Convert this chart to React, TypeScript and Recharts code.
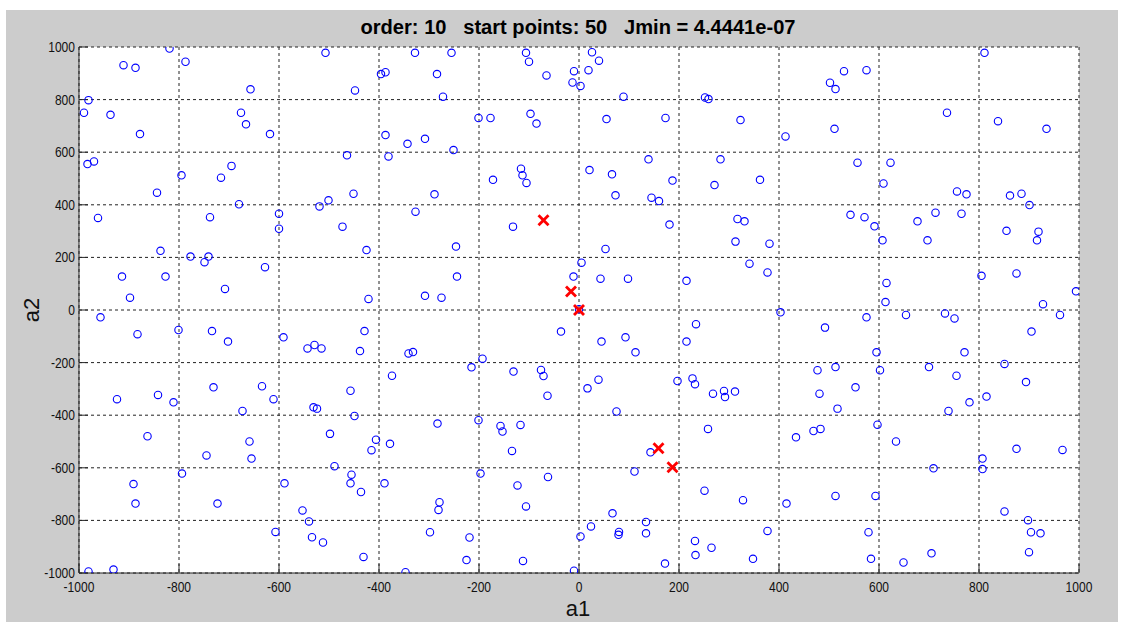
import { ScatterChart, Scatter, XAxis, YAxis, CartesianGrid } from 'recharts';

const startsTopLeft: [number, number][] = [
  [-819, 994], [-911, 931], [-887, 921], [-787, 944], [-507, 978], [-981, 798], [-990, 750], [-937, 742],
  [-878, 669], [-657, 839], [-676, 750], [-666, 706], [-618, 669], [-983, 555], [-970, 565], [-795, 512],
  [-716, 503], [-695, 548], [-844, 446], [-680, 402], [-962, 350], [-738, 353], [-600, 366], [-600, 309],
  [-519, 394], [-501, 417], [-837, 225], [-777, 203], [-749, 182], [-741, 203], [-628, 163], [-914, 127],
  [-827, 127], [-898, 47], [-708, 80],
];
const startsTopMid: [number, number][] = [
  [-328, 978], [-255, 978], [-396, 897], [-387, 904], [-448, 835], [-284, 897], [-272, 811], [-106, 978],
  [-100, 944], [-65, 892], [-10, 908], [-13, 865], [-201, 730], [-177, 730], [-97, 746], [-85, 709],
  [-387, 665], [-343, 632], [-308, 651], [-251, 608], [-464, 588], [-381, 584], [-116, 537], [-113, 512],
  [-105, 483], [-172, 495], [-451, 442], [-289, 440], [-327, 374], [-473, 317], [-132, 317], [-425, 228],
  [-246, 241], [-244, 127], [-421, 42], [-308, 54], [-275, 47], [-11, 127],
];
const startsTopCenter: [number, number][] = [
  [3, 852], [26, 980], [40, 948], [19, 912], [89, 811], [252, 808], [259, 802], [55, 726], [173, 730],
  [323, 722], [413, 660], [139, 573], [283, 573], [21, 532], [66, 516], [187, 492], [271, 475], [362, 495],
  [73, 436], [145, 427], [160, 414], [317, 346], [331, 337], [181, 325], [313, 260], [381, 252], [53, 232],
  [5, 180], [341, 176], [377, 143], [43, 119], [98, 119], [215, 111], [0, 3],
];
const startsTopRight: [number, number][] = [
  [502, 864], [513, 840], [530, 908], [575, 912], [811, 978], [736, 750], [838, 718], [935, 689], [511, 689],
  [557, 560], [623, 560], [609, 481], [756, 451], [775, 440], [862, 435], [885, 442], [901, 399], [543, 362],
  [571, 353], [591, 318], [607, 265], [677, 337], [713, 370], [765, 366], [697, 265], [855, 301], [919, 298],
  [916, 265], [615, 103], [613, 30], [805, 130], [875, 139], [994, 71], [928, 22],
];
const startsBottomLeft: [number, number][] = [
  [-957, -28], [-883, -92], [-801, -76], [-734, -80], [-702, -120], [-591, -104], [-543, -146], [-529, -133],
  [-515, -146], [-924, -339], [-842, -323], [-811, -351], [-731, -294], [-634, -290], [-611, -339],
  [-673, -384], [-531, -370], [-524, -375], [-498, -471], [-863, -480], [-745, -553], [-659, -500],
  [-655, -565], [-794, -622], [-891, -662], [-887, -736], [-723, -736], [-589, -659], [-553, -762],
  [-540, -804], [-534, -864], [-512, -884], [-607, -844], [-981, -994], [-931, -987],
];
const startsBottomMid: [number, number][] = [
  [-429, -80], [-438, -156], [-341, -165], [-332, -160], [-215, -218], [-193, -185], [-36, -82], [-131, -234],
  [-76, -228], [-71, -251], [-63, -326], [-374, -250], [-457, -307], [-449, -403], [-406, -493], [-415, -533],
  [-378, -509], [-283, -432], [-201, -419], [-157, -441], [-153, -462], [-117, -437], [-134, -536],
  [-489, -594], [-455, -626], [-457, -659], [-436, -692], [-389, -659], [-197, -622], [-123, -667],
  [-62, -635], [-106, -747], [-279, -731], [-281, -760], [-431, -939], [-298, -845], [-219, -865],
  [-225, -951], [-112, -954], [-347, -997], [-10, -991],
];
const startsBottomCenter: [number, number][] = [
  [403, -9], [492, -67], [45, -120], [93, -104], [113, -161], [234, -54], [215, -120], [17, -298], [39, -265],
  [75, -386], [197, -270], [227, -260], [232, -282], [268, -318], [290, -308], [292, -331], [312, -310],
  [477, -229], [481, -318], [258, -452], [434, -484], [469, -460], [483, -452], [143, -541], [111, -614],
  [251, -687], [328, -723], [415, -736], [67, -773], [24, -823], [3, -861], [80, -844], [79, -855],
  [134, -806], [134, -849], [232, -878], [233, -932], [265, -904], [348, -946], [377, -840], [172, -964],
];
const startsBottomRight: [number, number][] = [
  [575, -28], [654, -19], [732, -13], [751, -32], [962, -19], [905, -82], [595, -161], [771, -161],
  [513, -217], [602, -229], [700, -217], [755, -250], [851, -205], [894, -274], [553, -294], [517, -375],
  [739, -384], [781, -351], [815, -329], [597, -436], [634, -500], [807, -565], [807, -605], [875, -528],
  [967, -532], [709, -602], [513, -707], [593, -707], [851, -766], [898, -799], [904, -845], [923, -849],
  [579, -845], [584, -946], [649, -960], [705, -925], [900, -921],
];

// local minima found (red crosses)
const minima: [number, number][] = [[-71, 341], [-16, 70], [0, 0], [159, -526], [187, -598]];

const ticks = [-1000, -800, -600, -400, -200, 0, 200, 400, 600, 800, 1000];

const toPts = (arr: [number, number][]) => arr.map(([a1, a2]) => ({ a1, a2 }));
const starts = toPts([
  ...startsTopLeft, ...startsTopMid, ...startsTopCenter, ...startsTopRight,
  ...startsBottomLeft, ...startsBottomMid, ...startsBottomCenter, ...startsBottomRight,
]);
const mins = toPts(minima);

const font = "'Liberation Sans', Arial, sans-serif";

// matlab-ish narrow tick labels
const XTick = (p: any) => (
  <text transform={`translate(${p.x},${p.y}) scale(0.86,1)`} textAnchor="middle" fontFamily={font} fontSize={14} fill="#111">
    {p.payload.value}
  </text>
);
const YTick = (p: any) => (
  <text transform={`translate(${p.x},${p.y}) scale(0.86,1)`} dy="0.36em" textAnchor="end" fontFamily={font} fontSize={14} fill="#111">
    {p.payload.value}
  </text>
);

const Ring = (p: any) => <circle cx={p.cx} cy={p.cy} r={3.7} fill="none" stroke="#0000ff" strokeWidth={1.1} />;
const Cross = (p: any) => {
  const d = 5;
  return (
    <g stroke="#ff0000" strokeWidth={2.8}>
      <line x1={p.cx - d} y1={p.cy - d} x2={p.cx + d} y2={p.cy + d} />
      <line x1={p.cx - d} y1={p.cy + d} x2={p.cx + d} y2={p.cy - d} />
    </g>
  );
};

export default function App() {
  return (
    <div style={{ position: 'absolute', left: 0, top: 0, width: 1136, height: 626, background: '#fff', overflow: 'hidden' }}>
      <div style={{ position: 'absolute', left: 6, top: 10, width: 1112, height: 612, background: '#cccccc' }} />
      <div style={{ position: 'absolute', left: 0, top: 0 }}>
        <ScatterChart width={1136} height={626} margin={{ top: 47, right: 57, bottom: 23, left: 39 }}>
          <CartesianGrid stroke="#222" strokeDasharray="3 3" fill="#fff" />
          <XAxis
            type="number"
            dataKey="a1"
            domain={[-1000, 1000]}
            ticks={ticks}
            height={30}
            tickSize={-9}
            tickMargin={28}
            stroke="#262626"
            tick={<XTick />}
            allowDataOverflow
          />
          <XAxis
            xAxisId="top"
            orientation="top"
            type="number"
            domain={[-1000, 1000]}
            ticks={ticks}
            height={0}
            tickSize={-9}
            tick={false}
            stroke="#262626"
          />
          <YAxis
            type="number"
            dataKey="a2"
            domain={[-1000, 1000]}
            ticks={ticks}
            width={40}
            tickSize={-9}
            tickMargin={13}
            stroke="#262626"
            tick={<YTick />}
            allowDataOverflow
          />
          <YAxis
            yAxisId="right"
            orientation="right"
            type="number"
            domain={[-1000, 1000]}
            ticks={ticks}
            width={0}
            tickSize={-9}
            tick={false}
            stroke="#262626"
          />
          <Scatter data={starts} shape={Ring} isAnimationActive={false} />
          <Scatter data={mins} shape={Cross} isAnimationActive={false} />
        </ScatterChart>
      </div>
      <svg width={1136} height={626} style={{ position: 'absolute', left: 0, top: 0, pointerEvents: 'none' }}>
        <text
          x={578}
          y={34}
          textAnchor="middle"
          textLength={435}
          lengthAdjust="spacingAndGlyphs"
          xmlSpace="preserve"
          style={{ whiteSpace: 'pre' }}
          fontFamily={font}
          fontWeight="bold"
          fontSize={20}
          fill="#000"
        >
          order: 10   start points: 50   Jmin = 4.4441e-07
        </text>
        <text x={578} y={616} textAnchor="middle" fontFamily={font} fontSize={22} fill="#111">
          a1
        </text>
        <text x={39} y={310} textAnchor="middle" transform="rotate(-90 39 310)" fontFamily={font} fontSize={22} fill="#111">
          a2
        </text>
      </svg>
    </div>
  );
}
